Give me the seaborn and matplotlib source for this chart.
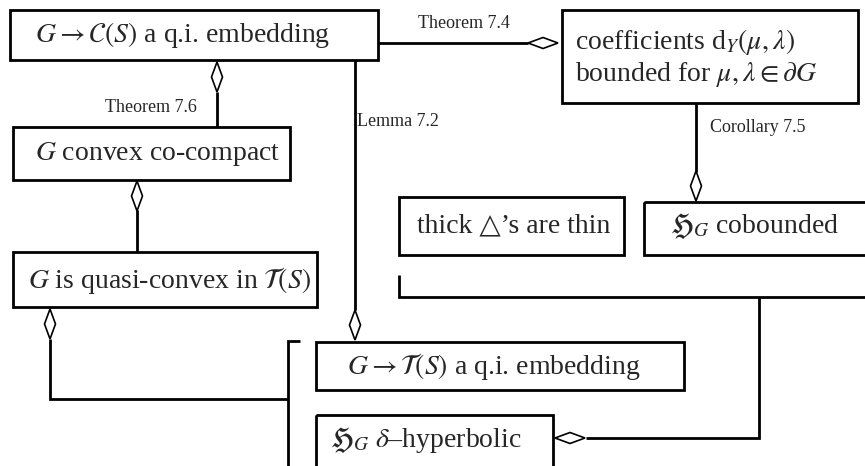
import seaborn as sns
import matplotlib.pyplot as plt
from matplotlib.patches import Polygon, Rectangle

sns.set_theme(style="white")
plt.rcParams['font.family'] = ['Liberation Serif', 'DejaVu Sans']
plt.rcParams['mathtext.fontset'] = 'stix'

# box labels
box_labels = [
    r"$G \rightarrow \mathcal{C}(S)$ a q.i. embedding",
    r"$G$ convex co-compact",
    r"$G$ is quasi-convex in $\mathcal{T}(S)$",
    "coefficients d$_Y(\\mu,\\lambda)$\nbounded for $\\mu,\\lambda \\in \\partial G$",
    "thick \u25b3\u2019s are thin",
    r"$\mathfrak{H}_G$ cobounded",
    r"$G \rightarrow \mathcal{T}(S)$ a q.i. embedding",
    r"$\mathfrak{H}_G\ \delta$–hyperbolic",
]
# box geometry: left, top, right, bottom (pixels)
box_x0 = [10, 13, 13, 562, 399, 644, 316, 316]
box_y0 = [10, 127, 252, 10, 197, 202, 342, 415]
box_x1 = [378, 290, 317, 858, 624, 870, 684, 553]
box_y1 = [60, 180, 307, 103, 255, 255, 390, 480]
text_x = [35, 35, 28, 575, 417, 670, 347, 330]
text_y = [35, 154, 280, 58, 226, 226, 366, 440]

# edge labels
edge_labels = ["Theorem 7.6", "Theorem 7.4", "Lemma 7.2", "Corollary 7.5"]
edge_lx = [105, 418, 357, 710]
edge_ly = [108, 23, 122, 128]

fig = plt.figure(figsize=(8.65, 4.66), dpi=100)
ax = fig.add_axes([0, 0, 1, 1])
ax.set_xlim(0, 865)
ax.set_ylim(466, 0)
ax.axis("off")

lw = 2.0
for lab, x0, y0, x1, y1, tx, ty in zip(box_labels, box_x0, box_y0, box_x1,
                                       box_y1, text_x, text_y):
    ax.add_patch(Rectangle((x0, y0), x1 - x0, y1 - y0, fill=False,
                           lw=lw, ec="black", clip_on=True))
    ax.text(tx, ty, lab, ha="left", va="center", fontsize=20,
            linespacing=1.15)

for lab, x, y in zip(edge_labels, edge_lx, edge_ly):
    ax.text(x, y, lab, ha="left", va="center", fontsize=13)


def diamond(tip, direction, length=30, width=11):
    x, y = tip
    dx, dy = direction
    px, py = -dy, dx
    pts = [(x, y),
           (x - dx * length / 2 + px * width / 2, y - dy * length / 2 + py * width / 2),
           (x - dx * length, y - dy * length),
           (x - dx * length / 2 - px * width / 2, y - dy * length / 2 - py * width / 2)]
    ax.add_patch(Polygon(pts, closed=True, fc="white", ec="black", lw=1.2,
                         zorder=3))


def line(xs, ys):
    ax.plot(xs, ys, color="black", lw=lw, solid_capstyle="butt",
            solid_joinstyle="miter")


# Theorem 7.6
line([217, 217], [127, 92])
diamond((217, 62), (0, -1))
# Theorem 7.4
line([378, 528], [43, 43])
diamond((558, 43), (1, 0))
# Lemma 7.2
line([355, 355], [60, 310])
diamond((355, 340), (0, 1))
# Corollary 7.5
line([696, 696], [103, 172])
diamond((696, 201), (0, 1))
# convex co-compact -> quasi-convex
line([137, 137], [252, 210])
diamond((137, 181), (0, -1))
# bracket under thick/cobounded
line([399, 399, 865], [275, 297, 297])
line([759, 759, 586], [297, 438, 438])
diamond((555, 438), (-1, 0))
# bracket round the lower boxes
line([300, 288, 288], [341, 341, 466])
line([288, 50, 50], [399, 399, 339])
diamond((50, 309), (0, -1))

fig.savefig("out.png", dpi=100)
